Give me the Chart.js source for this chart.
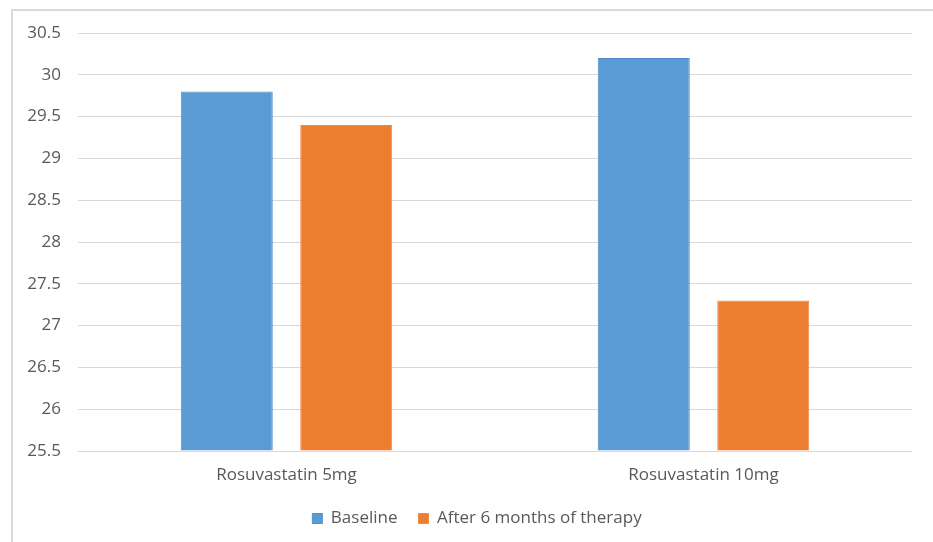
<!DOCTYPE html>
<html>
<head>
<meta charset="utf-8">
<title>Rosuvastatin</title>
<script src="https://cdn.jsdelivr.net/npm/chart.js@4/dist/chart.umd.min.js"></script>
<style>
  html, body { margin: 0; padding: 0; background: #ffffff; }
  #wrap { position: relative; width: 933px; height: 542px; overflow: hidden; }
  #frame {
    position: absolute; left: 11px; top: 9px; width: 940px; height: 560px;
    border-top: 2px solid #d9d9d9; border-left: 2px solid #d9d9d9;
    box-sizing: border-box;
  }
  #c { position: absolute; left: 0; top: 0; }
</style>
</head>
<body>
<div id="wrap">
  <div id="frame"></div>
  <canvas id="c" width="933" height="542"></canvas>
</div>
<script>
// Categories and series
const categories = ['Rosuvastatin 5mg', 'Rosuvastatin 10mg'];
const baseline = [29.8, 30.2];
const afterTherapy = [29.4, 27.3];
const seriesNames = ['Baseline', 'After 6 months of therapy'];

// Value axis
const yMin = 25.5;
const yMax = 30.5;
const yStep = 0.5;

const FONT = '"Open Sans", Lato, sans-serif';
const TEXT = '#595959';
const SIZE = 17;

// The legend is centred on the outer frame, which runs past the canvas on the right
const legendShift = {
  id: 'legendShift',
  afterLayout(chart) {
    const lg = chart.legend;
    if (!lg) return;
    const dx = 15;
    lg.left += dx;
    lg.right += dx;
    (lg.legendHitBoxes || []).forEach((b) => { b.left += dx; });
  }
};

new Chart(document.getElementById('c'), {
  type: 'bar',
  data: {
    labels: categories,
    datasets: [
      {
        label: seriesNames[0],
        data: baseline,
        backgroundColor: '#5b9bd5',
        borderColor: '#4f8fcc',
        borderWidth: 1,
        base: yMin
      },
      {
        label: seriesNames[1],
        data: afterTherapy,
        backgroundColor: '#ed7d31',
        borderColor: '#f08a45',
        borderWidth: 1,
        base: yMin
      }
    ]
  },
  plugins: [legendShift],
  options: {
    responsive: false,
    animation: false,
    layout: { padding: { left: 12, right: 21, top: 33, bottom: 5 } },
    datasets: {
      bar: { categoryPercentage: 0.573, barPercentage: 0.77 }
    },
    scales: {
      x: {
        grid: { display: false, drawTicks: false },
        border: { display: false },
        ticks: { color: TEXT, font: { family: FONT, size: SIZE }, padding: 14 },
        afterFit: (s) => { s.height = 38; }
      },
      y: {
        min: yMin,
        max: yMax,
        grid: { color: '#d9d9d9', lineWidth: 1, drawTicks: false },
        border: { display: false },
        ticks: {
          stepSize: yStep,
          color: TEXT,
          font: { family: FONT, size: SIZE },
          padding: 17,
          callback: (v) => String(Math.round(v * 10) / 10)
        },
        afterFit: (s) => { s.width = 66; }
      }
    },
    plugins: {
      legend: {
        position: 'bottom',
        labels: {
          color: TEXT,
          font: { family: FONT, size: SIZE },
          boxWidth: 10,
          boxHeight: 10,
          padding: 21
        }
      },
      tooltip: { enabled: false }
    }
  }
});
</script>
</body>
</html>
